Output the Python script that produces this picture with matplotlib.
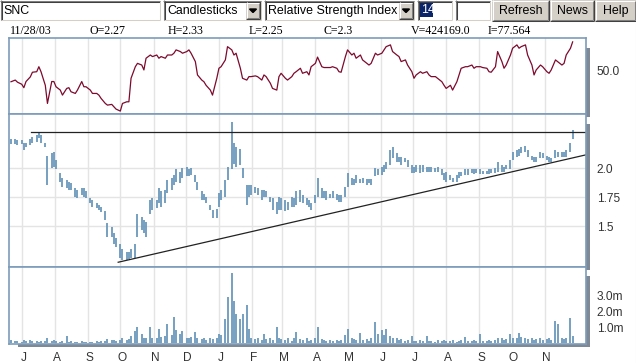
import numpy as np
import pandas as pd
import matplotlib
matplotlib.use('Agg')
import matplotlib.pyplot as plt
import matplotlib.dates as mdates
from matplotlib.patches import Rectangle, Polygon

W, H = 636, 363

# daily-ish bars (every 2nd trading day)
highs = [2.25, 2.25, 2.24, 2.24, 2.22, 2.22, 2.25, 2.27, 2.29, 2.31,
         2.29, 2.22, 2.11, 2.13, 2.14, 2.07, 1.96, 1.92, 1.90, 1.88,
         1.87, 1.83, 1.81, 1.83, 1.83, 1.80, 1.74, 1.73, 1.70, 1.68,
         1.67, 1.63, 1.53, 1.49, 1.44, 1.40, 1.35, 1.30, 1.28, 1.28,
         1.30, 1.35, 1.61, 1.58, 1.55, 1.54, 1.73, 1.74, 1.73, 1.83,
         1.80, 1.81, 1.90, 1.92, 1.94, 1.99, 1.97, 2.00, 2.01, 1.99,
         2.00, 1.94, 1.88, 1.80, 1.78, 1.75, 1.68, 1.64, 1.65, 1.79,
         1.81, 1.90, 2.01, 2.40, 2.22, 2.18, 2.17, 2.00, 1.86, 1.86,
         1.86, 1.84, 1.83, 1.81, 1.81, 1.80, 1.75, 1.74, 1.71, 1.75,
         1.74, 1.73, 1.71, 1.75, 1.74, 1.80, 1.81, 1.77, 1.74, 1.73,
         1.70, 1.77, 1.92, 1.83, 1.80, 1.80, 1.78, 1.80, 1.78, 1.77,
         1.77, 1.84, 1.96, 1.92, 1.91, 1.94, 1.91, 1.92, 1.91, 1.91,
         1.91, 2.00, 1.99, 2.01, 2.03, 2.05, 2.16, 2.18, 2.13, 2.10,
         2.10, 2.09, 2.07, 2.03, 2.01, 2.03, 2.03, 2.03, 2.01, 2.01,
         2.01, 2.00, 2.01, 1.99, 1.96, 1.97, 1.94, 1.92, 1.94, 1.97,
         1.97, 1.99, 1.99, 1.99, 1.99, 1.99, 1.99, 1.98, 1.98, 1.99,
         1.99, 2.00, 2.05, 2.03, 2.01, 2.03, 2.07, 2.14, 2.16, 2.17,
         2.18, 2.19, 2.16, 2.11, 2.10, 2.10, 2.14, 2.13, 2.11, 2.10,
         2.09, 2.16, 2.14, 2.14, 2.14, 2.16, 2.22, 2.33]
lows = [2.21, 2.21, 2.20, 2.21, 2.16, 2.18, 2.20, 2.22, 2.23, 2.26,
        2.22, 2.18, 1.86, 2.00, 2.01, 1.99, 1.88, 1.84, 1.83, 1.81,
        1.81, 1.75, 1.74, 1.77, 1.75, 1.74, 1.70, 1.67, 1.66, 1.64,
        1.62, 1.55, 1.41, 1.41, 1.35, 1.32, 1.23, 1.21, 1.21, 1.22,
        1.23, 1.23, 1.41, 1.47, 1.44, 1.41, 1.61, 1.64, 1.66, 1.70,
        1.67, 1.70, 1.79, 1.81, 1.86, 1.88, 1.87, 1.92, 1.93, 1.93,
        1.94, 1.88, 1.81, 1.73, 1.73, 1.70, 1.64, 1.57, 1.57, 1.67,
        1.73, 1.75, 1.90, 1.99, 2.04, 2.01, 2.03, 1.92, 1.68, 1.75,
        1.77, 1.79, 1.77, 1.73, 1.75, 1.75, 1.71, 1.64, 1.61, 1.64,
        1.64, 1.63, 1.64, 1.67, 1.67, 1.68, 1.71, 1.70, 1.68, 1.67,
        1.64, 1.70, 1.75, 1.74, 1.74, 1.73, 1.74, 1.74, 1.73, 1.71,
        1.71, 1.75, 1.84, 1.86, 1.86, 1.87, 1.87, 1.87, 1.86, 1.87,
        1.86, 1.93, 1.94, 1.94, 1.97, 1.99, 2.03, 2.09, 2.05, 2.05,
        2.03, 2.05, 2.01, 1.96, 1.96, 1.97, 1.96, 1.97, 1.97, 1.97,
        1.97, 1.97, 1.97, 1.94, 1.90, 1.88, 1.90, 1.88, 1.88, 1.92,
        1.93, 1.94, 1.94, 1.96, 1.95, 1.96, 1.95, 1.95, 1.95, 1.95,
        1.96, 1.96, 1.97, 1.97, 1.97, 1.99, 1.99, 2.07, 2.10, 2.11,
        2.13, 2.14, 2.10, 2.07, 2.05, 2.05, 2.09, 2.09, 2.07, 2.05,
        2.05, 2.09, 2.10, 2.10, 2.10, 2.10, 2.14, 2.25]
rsi = [39.4, 41, 39, 37, 33.7, 39.6, 44, 48.5, 49, 53.8,
       49, 36, 18.6, 39.6, 39.6, 34.6, 31.4, 26.6, 33, 33.7,
       29.8, 28.2, 31.4, 39.6, 34.6, 34.6, 31.4, 28.2, 28.2, 26.6,
       23.5, 18.6, 17, 17.7, 15.4, 13.2, 11.3, 18.6, 20.2, 20.2,
       42.7, 53.8, 57, 55.4, 50.7, 61.9, 65, 63.5, 65, 61.9,
       63.5, 61.9, 65, 65, 66.7, 69.9, 68.3, 66.7, 68.3, 69.9,
       66.7, 58.7, 45.9, 41, 39.4, 36, 31.4, 26.6, 42.7, 52.3,
       53.8, 60.3, 73, 69.9, 65, 66.7, 52.3, 42.7, 41, 44.3,
       44.3, 45, 44.3, 41, 45.9, 44.3, 37.9, 33, 31.4, 44.3,
       47.5, 42.7, 41, 44.3, 47.5, 49, 52.3, 47.5, 49, 45.9,
       53.8, 57, 63, 53.8, 53, 53, 53, 53.8, 52.3, 49,
       48.5, 63.5, 69.9, 65, 66.7, 61.9, 65, 60.3, 57, 55.4,
       57, 66.7, 65, 66.7, 69.9, 73, 74.7, 68.3, 65, 63.5,
       58.7, 60.3, 55.4, 49, 42.7, 45.9, 49, 47.5, 49, 45.9,
       44.3, 44.3, 42.7, 39.4, 36, 33, 36, 31.4, 39.4, 45.9,
       52.3, 53.8, 53.8, 55.4, 52.3, 53.8, 53.8, 53, 52.3, 49,
       48.5, 53.8, 68.3, 58.7, 52.3, 55.4, 65, 71.5, 74.7, 71.5,
       73, 74.7, 65, 55.4, 45.9, 50.7, 55.4, 53.8, 49, 47.5,
       50.7, 60.3, 58.7, 55.4, 57, 65, 71.5, 77.56]
# volume in millions of shares
volume = [0.20, 0.15, 0.12, 0.10, 0.18, 0.14, 0.20, 0.12, 0.16, 0.10,
          0.14, 0.12, 0.30, 0.15, 0.20, 0.12, 0.10, 0.14, 0.47, 0.10,
          0.12, 0.08, 0.10, 0.12, 0.10, 0.08, 0.10, 0.09, 0.12, 0.10,
          0.15, 0.12, 0.25, 0.18, 0.20, 0.15, 0.22, 0.30, 0.20, 0.25,
          0.45, 0.75, 1.00, 0.55, 0.30, 0.35, 1.00, 0.35, 0.30, 0.90,
          0.40, 0.45, 1.20, 0.50, 1.65, 0.80, 0.60, 0.75, 0.35, 0.30,
          0.40, 0.70, 0.30, 0.25, 0.35, 0.20, 0.30, 0.25, 0.35, 0.55,
          0.50, 1.50, 2.90, 4.40, 2.60, 1.80, 1.50, 1.80, 2.40, 0.90,
          0.30, 0.25, 0.35, 0.20, 0.55, 0.25, 0.30, 0.20, 1.00, 0.30,
          0.25, 0.20, 0.30, 0.15, 0.35, 0.70, 0.25, 0.20, 0.30, 0.15,
          0.20, 0.30, 1.00, 0.25, 0.20, 0.15, 0.20, 0.12, 0.18, 0.15,
          0.20, 0.50, 0.90, 0.30, 0.25, 0.20, 0.65, 0.20, 0.25, 0.15,
          0.30, 1.35, 0.60, 0.80, 0.50, 0.90, 0.45, 0.35, 0.30, 0.20,
          0.25, 0.15, 0.20, 0.45, 0.15, 0.12, 0.20, 0.15, 0.45, 0.12,
          0.15, 0.10, 0.18, 0.12, 0.20, 0.15, 0.12, 0.18, 0.10, 0.15,
          0.20, 0.40, 0.15, 0.12, 0.20, 0.15, 0.55, 0.15, 0.12, 0.18,
          0.15, 0.20, 0.35, 0.30, 0.20, 0.25, 0.60, 0.35, 0.30, 0.65,
          0.40, 0.30, 0.25, 0.30, 0.20, 0.25, 0.30, 0.20, 0.25, 0.30,
          0.20, 1.40, 1.20, 0.30, 0.25, 0.30, 1.60, 0.42]

dates = pd.bdate_range(end='2003-11-28', periods=376)[::2]
x = mdates.date2num(dates.to_pydatetime())

months = pd.date_range('2002-07-01', '2003-11-01', freq='MS')
month_labels = ['J', 'A', 'S', 'O', 'N', 'D', 'J', 'F', 'M', 'A', 'M', 'J', 'J', 'A', 'S', 'O', 'N']

resistance = 2.31
resist_start = '2002-07-10'
support_dates = ['2002-09-29', '2003-12-09']
support_vals = [1.19, 2.115]

price_ticks = [1.5, 1.75, 2.0]
price_labels = ['1.5', '1.75', '2.0']
vol_ticks = [1.0, 2.0, 3.0]
vol_labels = ['1.0m', '2.0m', '3.0m']

info = ['11/28/03', 'O=2.27', 'H=2.33', 'L=2.25', 'C=2.3', 'V=424169.0', 'I=77.564']

BAR = '#6b98bc'
RSI_C = '#7d0a2e'
EDGE = '#7d9cba'
GRID = '#e4e4e4'
SHADOW = '#7e8995'
FACE = '#d4d0c8'
UI_FONT = 'Liberation Sans'

fig = plt.figure(figsize=(W / 100, H / 100), dpi=100)
bg = fig.add_axes([0, 0, 1, 1])
bg.set_xlim(0, W)
bg.set_ylim(H, 0)
bg.axis('off')


def box(x0, y0, x1, y1):
    return [x0 / W, 1 - y1 / H, (x1 - x0) / W, (y1 - y0) / H]


def hline(x0, x1, y, c):
    bg.plot([x0, x1], [y, y], color=c, lw=0.75, solid_capstyle='butt')


def vline(x0, y0, y1, c):
    bg.plot([x0, x0], [y0, y1], color=c, lw=0.75, solid_capstyle='butt')


def sunken(x0, y0, x1, y1):
    bg.add_patch(Rectangle((x0, y0), x1 - x0, y1 - y0, facecolor='white', edgecolor='none'))
    hline(x0, x1, y0 + 0.5, '#808080')
    vline(x0 + 0.5, y0, y1, '#808080')
    hline(x0 + 1, x1 - 1, y0 + 1.5, '#404040')
    vline(x0 + 1.5, y0 + 1, y1 - 1, '#404040')
    hline(x0, x1, y1 - 0.5, '#ffffff')
    vline(x1 - 0.5, y0, y1, '#ffffff')
    hline(x0 + 1, x1 - 1, y1 - 1.5, FACE)
    vline(x1 - 1.5, y0 + 1, y1 - 1, FACE)


def raised(x0, y0, x1, y1):
    bg.add_patch(Rectangle((x0, y0), x1 - x0, y1 - y0, facecolor=FACE, edgecolor='none'))
    hline(x0, x1, y0 + 0.5, '#ffffff')
    vline(x0 + 0.5, y0, y1, '#ffffff')
    hline(x0, x1, y1 - 0.5, '#404040')
    vline(x1 - 0.5, y0, y1, '#404040')
    hline(x0 + 1, x1 - 1, y1 - 1.5, '#808080')
    vline(x1 - 1.5, y0 + 1, y1 - 1, '#808080')


def dropdown(x0, x1, label):
    sunken(x0, 0, x1, 21)
    bg.text(x0 + 4, 11, label, fontsize=8.9, family=UI_FONT, va='center', ha='left')
    raised(x1 - 16, 2, x1 - 2, 19)
    cx = x1 - 9
    bg.add_patch(Polygon([[cx - 3.5, 9], [cx + 3.5, 9], [cx, 12.5]], closed=True, color='black'))


# toolbar
sunken(0, 0, 161, 21)
bg.text(3, 11, 'SNC', fontsize=8.9, family=UI_FONT, va='center', ha='left')
dropdown(163, 262, 'Candlesticks')
dropdown(264, 415, 'Relative Strength Index')
sunken(417, 0, 453, 21)
bg.add_patch(Rectangle((420, 2), 13, 15, facecolor='#0a246a', edgecolor='none'))
bg.text(421, 10, '14', fontsize=8.9, family=UI_FONT, va='center', ha='left', color='white')
sunken(455, 0, 491, 21)
for (bx0, bx1, lab) in [(492, 549, 'Refresh'), (550, 594, 'News'), (595, 636, 'Help')]:
    raised(bx0, 0, bx1, 21)
    bg.text((bx0 + bx1) / 2, 11, lab, fontsize=8.9, family=UI_FONT, va='center', ha='center')

info_x = [10, 89, 168, 249, 323, 411, 488]
for tx, s in zip(info_x, info):
    bg.text(tx, 31, s, fontsize=8.6, family='Liberation Serif', va='center', ha='left')

# drop shadows
for (sx0, sy0, sx1, sy1) in [(586, 48, 590, 117), (586, 124, 590, 270), (586, 276, 590, 347), (18, 344, 590, 347)]:
    bg.add_patch(Rectangle((sx0, sy0), sx1 - sx0, sy1 - sy0, facecolor=SHADOW, edgecolor='none'))
vline(635.5, 22, 363, '#c8c8c8')

xl = (mdates.datestr2num('2002-06-19 10:00'), mdates.datestr2num('2003-12-09'))
mx = mdates.date2num(months.to_pydatetime())

ax_rsi = fig.add_axes(box(9.3, 38.3, 585.5, 114))
ax_px = fig.add_axes(box(9.3, 114, 585.5, 267))
ax_vol = fig.add_axes(box(9.3, 267, 585.5, 344))

for ax in (ax_rsi, ax_px, ax_vol):
    ax.set_xlim(*xl)
    for m in mx:
        ax.axvline(m, color=GRID, lw=1, zorder=0)
    for sp in ax.spines.values():
        sp.set_color(EDGE)
        sp.set_linewidth(1.2)
    ax.yaxis.tick_right()
    ax.tick_params(axis='y', length=0, pad=8, labelsize=8.6, labelcolor='#333333')
    ax.tick_params(axis='x', length=0)
    ax.set_xticks([])

# RSI
ax_rsi.plot(x, rsi, color=RSI_C, lw=0.9)
ax_rsi.set_ylim(8.5, 81)
ax_rsi.set_yticks([50])
ax_rsi.set_yticklabels(['50.0'], family=UI_FONT)

# price bars
ax_px.vlines(x, lows, highs, color=BAR, lw=1.3)
ax_px.set_ylim(1.149, 2.468)
for p in price_ticks:
    ax_px.axhline(p, color=GRID, lw=1, zorder=0)
ax_px.set_yticks(price_ticks)
ax_px.set_yticklabels(price_labels, family=UI_FONT)
ax_px.plot([mdates.datestr2num(resist_start), xl[1]], [resistance, resistance], color='#222222', lw=0.9)
ax_px.plot(mdates.datestr2num(support_dates), support_vals, color='#222222', lw=0.9)

# volume
ax_vol.vlines(x, 0, volume, color=BAR, lw=1.3)
ax_vol.set_ylim(-0.05, 4.75)
ax_vol.set_yticks(vol_ticks)
ax_vol.set_yticklabels(vol_labels, family=UI_FONT)
ax_vol.set_xticks(mx + 1.5)
ax_vol.set_xticklabels(month_labels, family=UI_FONT, fontsize=8.6, color='#333333')
ax_vol.tick_params(axis='x', length=0, pad=6)

fig.savefig('out.png', dpi=100)
